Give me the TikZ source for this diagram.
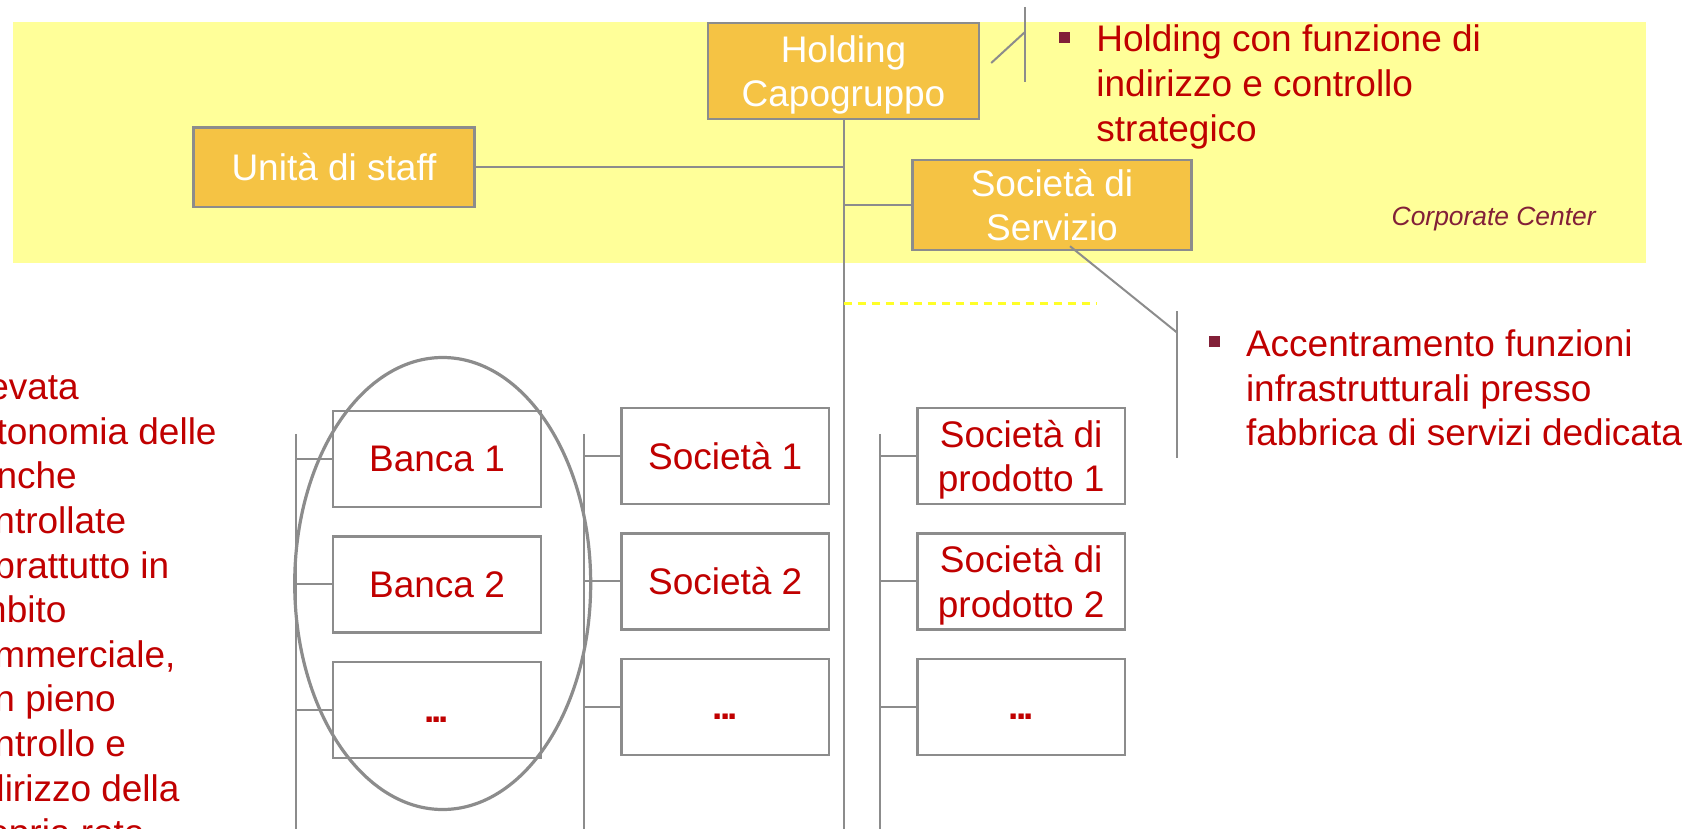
\documentclass[tikz,border=0pt]{standalone}
\usepackage{fontspec}
\setmainfont{Liberation Sans}
\usetikzlibrary{positioning,shapes.geometric}
\definecolor{band}{RGB}{255,255,153}
\definecolor{gold}{RGB}{245,195,68}
\definecolor{rim}{RGB}{140,140,140}
\definecolor{txtred}{RGB}{192,0,0}
\definecolor{maroon}{RGB}{130,32,56}
\definecolor{dashy}{RGB}{255,255,40}
\newcommand{\etc}{\vphantom{B}\textbf{.\kern-1.6pt.\kern-1.6pt.}}

\begin{document}
\begin{tikzpicture}[x=0.5pt,y=-0.5pt,node distance=13.5pt,
every node/.style={font=\fontsize{18.5}{22.3}\selectfont},
gbox/.style={draw=rim,line width=1.2pt,fill=gold,text=white,align=center,inner sep=0pt},
wbox/.style={draw=rim,line width=1.2pt,fill=white,text=txtred,align=center,inner sep=0pt,minimum width=103.75pt,minimum height=48pt},
link/.style={draw=rim,line width=1pt},
note/.style={text=txtred,align=left,inner sep=0pt,anchor=north west},
bul/.style={fill=maroon,minimum size=5.5pt,inner sep=0pt}]
\useasboundingbox (0,0) rectangle (1702,829);
\clip (0,0) rectangle (1702,829);
% corporate center band
\fill[band] (13,22) rectangle (1646,263);
\node[gbox,minimum width=135.5pt,minimum height=48pt,text depth=0pt] (hold) at (843.5,71) {Holding\\Capogruppo};
\node[gbox,minimum width=140.5pt,minimum height=39.5pt] (staff) at (334,167.2) {Unità di staff};
\node[gbox,minimum width=139.5pt,minimum height=45pt] (serv) at (1052,205) {Società di\\Servizio};
\node[font=\fontsize{13.2}{16}\selectfont\itshape,text=maroon,anchor=base,inner sep=0pt] (corp) at (1493.7,225) {Corporate Center};
% controlled companies
\node[wbox] (b1) at (437,459) {Banca 1};
\node[wbox,below=of b1] (b2) {Banca 2};
\node[wbox,below=of b2] (b3) {\etc};
\node[wbox] (s1) at (725.2,456) {Società 1};
\node[wbox,below=of s1] (s2) {Società 2};
\node[wbox,below=of s2] (s3) {\etc};
\node[wbox,text depth=0pt] (p1) at (1021.2,456) {Società di\\prodotto 1};
\node[wbox,text depth=0pt,below=of p1] (p2) {Società di\\prodotto 2};
\node[wbox,below=of p2] (p3) {\etc};
\node[draw=rim,line width=1.6pt,ellipse,minimum width=148pt,minimum height=226pt,inner sep=0pt] (oval) at (442.7,583.5) {};
% notes
\node[bul] (hbul) at (1064,37.5) {};
\node[note] (hnote) at (1096,24.7) {Holding con funzione di\\indirizzo e controllo\\strategico};
\node[bul] (abul) at (1214,341) {};
\node[note] (anote) at (1245.6,329.5) {Accentramento funzioni\\infrastrutturali presso\\fabbrica di servizi dedicata};
\node[note] (lnote) at (-45,372.5) {Elevata\\autonomia delle\\banche\\controllate\\soprattutto in\\ambito\\commerciale,\\con pieno\\controllo e\\indirizzo della\\propria rete};
% connectors
\coordinate (foot) at (843.5,829);
\coordinate (dashend) at (1096,303.5);
\coordinate (htop) at (1025,7);
\coordinate (hbot) at (1025,82);
\coordinate (htick) at (1025,32);
\coordinate (atop) at (1177,311);
\coordinate (abot) at (1177,457.5);
\coordinate (atick) at (1177,332.5);
\coordinate (bsp) at ([xshift=-18pt,yshift=-12pt]b1.north west);
\coordinate (ssp) at ([xshift=-18pt,yshift=-13.5pt]s1.north west);
\coordinate (psp) at ([xshift=-18pt,yshift=-13.5pt]p1.north west);
\draw[link] (hold) -- (foot);
\draw[link] (staff.east) -- (staff.east -| hold.south);
\draw[link] (serv.west) -- (serv.west -| hold.south);
\draw[dashy,line width=1.3pt,dash pattern=on 4pt off 3pt] (dashend -| hold.south) -- (dashend);
\draw[link] (htop) -- (hbot);
\draw[link] ([xshift=5.5pt,yshift=4pt]hold.east) -- (htick);
\draw[link] (atop) -- (abot);
\draw[link] ([xshift=9pt,yshift=2.5pt]serv.south) -- (atick);
\draw[link] (bsp) -- (bsp |- foot);
\draw[link] (bsp |- b1.west) -- (b1.west);
\draw[link] (bsp |- b2.west) -- (b2.west);
\draw[link] (bsp |- b3.west) -- (b3.west);
\draw[link] (ssp) -- (ssp |- foot);
\draw[link] (ssp |- s1.west) -- (s1.west);
\draw[link] (ssp |- s2.west) -- (s2.west);
\draw[link] (ssp |- s3.west) -- (s3.west);
\draw[link] (psp) -- (psp |- foot);
\draw[link] (psp |- p1.west) -- (p1.west);
\draw[link] (psp |- p2.west) -- (p2.west);
\draw[link] (psp |- p3.west) -- (p3.west);
\end{tikzpicture}
\end{document}
